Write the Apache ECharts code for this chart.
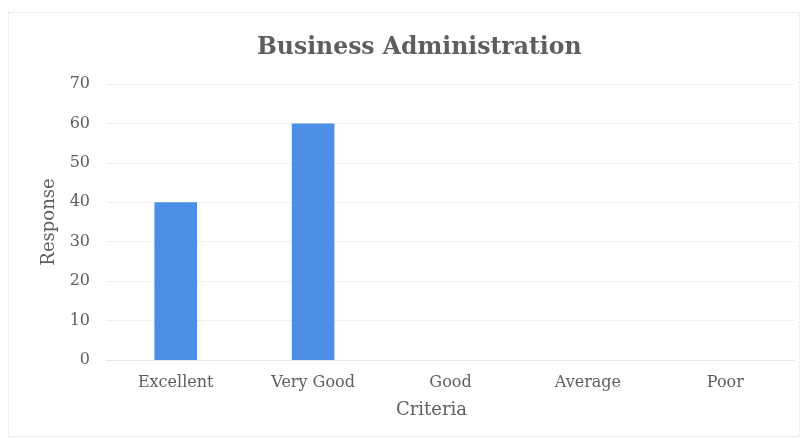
<!DOCTYPE html>
<html>
<head>
<meta charset="utf-8">
<style>
  html, body { margin: 0; padding: 0; background: #ffffff; }
  #chart { width: 808px; height: 439px; }
</style>
<script src="https://cdn.jsdelivr.net/npm/echarts@6/dist/echarts.min.js"></script>
</head>
<body>
<div id="chart"></div>
<script>
// Survey responses by rating
const categories = ['Excellent', 'Very Good', 'Good', 'Average', 'Poor'];
const responses = [40, 60, 0, 0, 0];
const titleText = 'Business Administration';
const yAxisName = 'Response';
const xAxisName = 'Criteria';

const serif = '"DejaVu Serif", "Liberation Serif", serif';
const textGray = '#5e5e5e';
const chart = echarts.init(document.getElementById('chart'));

chart.setOption({
  backgroundColor: '#ffffff',
  title: {
    text: titleText,
    left: 252,
    top: 31,
    textStyle: { fontFamily: serif, fontSize: 23.5, fontWeight: 'bold', color: textGray }
  },
  graphic: [{
    type: 'rect',
    shape: { x: 8.5, y: 12.5, width: 791, height: 424 },
    style: { fill: 'none', stroke: '#e0e0e0', lineWidth: 1, lineDash: [2, 2] }
  }],
  grid: { left: 107, right: 14, top: 84, bottom: 79 },
  xAxis: {
    type: 'category',
    data: categories,
    name: xAxisName,
    nameLocation: 'middle',
    nameGap: 41,
    nameTextStyle: { fontFamily: serif, fontSize: 18, color: textGray, padding: [0, 38, 0, 0] },
    axisLine: { show: true, lineStyle: { color: '#dcdcdc', type: 'dotted' } },
    axisTick: { show: false },
    axisLabel: { fontFamily: serif, fontSize: 16, color: textGray, margin: 15 }
  },
  yAxis: {
    type: 'value',
    min: 0,
    max: 70,
    interval: 10,
    name: yAxisName,
    nameLocation: 'middle',
    nameGap: 48,
    nameRotate: 90,
    nameTextStyle: { fontFamily: serif, fontSize: 18, color: textGray },
    axisLine: { show: false },
    axisTick: { show: false },
    axisLabel: { fontFamily: serif, fontSize: 16, color: textGray, margin: 17 },
    splitLine: { lineStyle: { color: '#e2e2e2', type: 'dotted' } }
  },
  series: [{
    type: 'bar',
    data: responses,
    barWidth: '31%',
    itemStyle: { color: '#4d8fe6' }
  }]
});
</script>
</body>
</html>
